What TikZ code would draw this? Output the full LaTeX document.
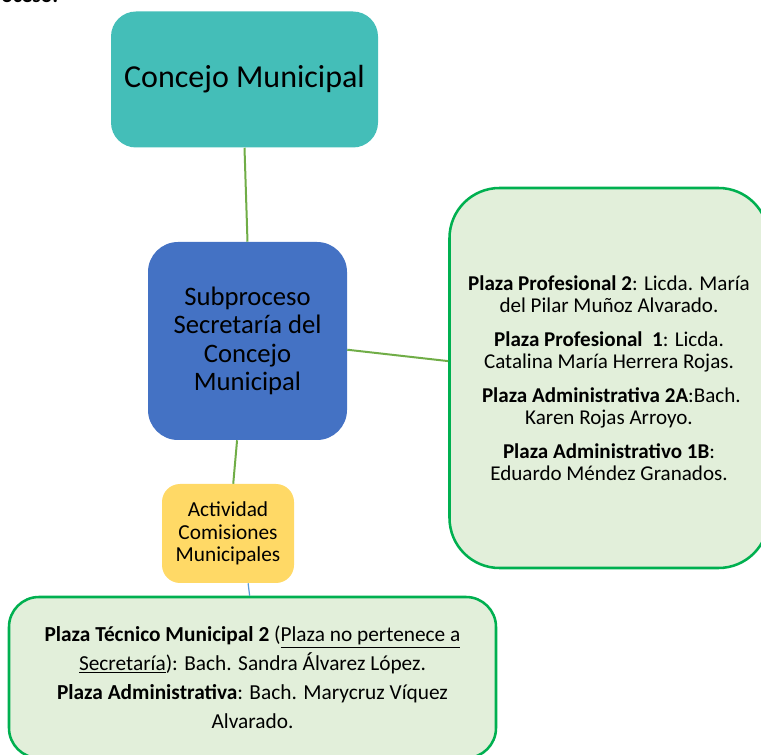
\documentclass[tikz,border=0pt]{standalone}
\usepackage{fontspec}
\setmainfont{Carlito}
\definecolor{concejo}{RGB}{68,190,184}
\definecolor{secblue}{RGB}{68,114,196}
\definecolor{actyellow}{RGB}{255,217,102}
\definecolor{plazafill}{RGB}{226,239,218}
\definecolor{plazaline}{RGB}{0,176,80}
\definecolor{linkgreen}{RGB}{112,173,71}
\definecolor{linkblue}{RGB}{91,155,213}
\begin{document}
\begin{tikzpicture}[x=0.75pt,y=-0.75pt,
	box/.style={rounded corners=#1, align=center, inner sep=0pt, text=black},
	plaza/.style={box=#1, fill=plazafill, draw=plazaline, line width=1.9pt},
	link/.style={draw=linkgreen, line width=1.5pt}]
		\useasboundingbox (0,0) rectangle (761,755);
		\node[anchor=base east, font=\fontsize{16}{19}\selectfont\bfseries] (titulo) at (63,3) {Proceso:};
		\node[box=18.75pt, fill=concejo, minimum width=200.25pt, minimum height=102pt,
			font=\fontsize{24}{29}\selectfont] (concejo) at (244.5,79.5) {Concejo Municipal};
		\node[box=22.5pt, fill=secblue, minimum width=149.25pt, minimum height=148.5pt,
			font=\fontsize{20}{21.4}\selectfont] (secretaria) at (247.5,341)
			{Subproceso\\Secretaría del\\Concejo\\Municipal};
		\node[plaza=37.5pt, minimum width=239.25pt, minimum height=285pt,
			font=\fontsize{15.8}{16.5}\selectfont] (plazas) at (609,378)
			{\textbf{Plaza Profesional 2}: Licda. María\\del Pilar Muñoz Alvarado.\\[9pt]
			\textbf{Plaza Profesional\ \ 1}: Licda.\\Catalina María Herrera Rojas.\\[9pt]
			\ \textbf{Plaza Administrativa 2A}:Bach.\\Karen Rojas Arroyo.\\[9pt]
			\textbf{Plaza Administrativo 1B}:\\Eduardo Méndez Granados.};
		\node[box=13.5pt, fill=actyellow, minimum width=99pt, minimum height=74.25pt,
			font=\fontsize{16}{17}\selectfont] (comisiones) at (228,533.5)
			{Actividad\\Comisiones\\Municipales};
		\node[plaza=22.5pt, minimum width=365.25pt, minimum height=120.75pt,
			font=\fontsize{16}{21.75}\selectfont] (tecnico) at (252.5,677.5)
			{\textbf{Plaza Técnico Municipal 2} (\underline{Plaza no pertenece a}\\
			\underline{Secretaría}): Bach. Sandra Álvarez López.\\
			\textbf{Plaza Administrativa}: Bach. Marycruz Víquez\\Alvarado.};
		\draw[link] (concejo.south) -- (secretaria.north);
		\draw[link] (secretaria.-5) -- (plazas.174);
		\draw[link] (secretaria.-96) -- (comisiones.84);
		\draw[draw=linkblue, line width=0.9pt] (comisiones.-68) -- (tecnico.92);
	\end{tikzpicture}
\end{document}
